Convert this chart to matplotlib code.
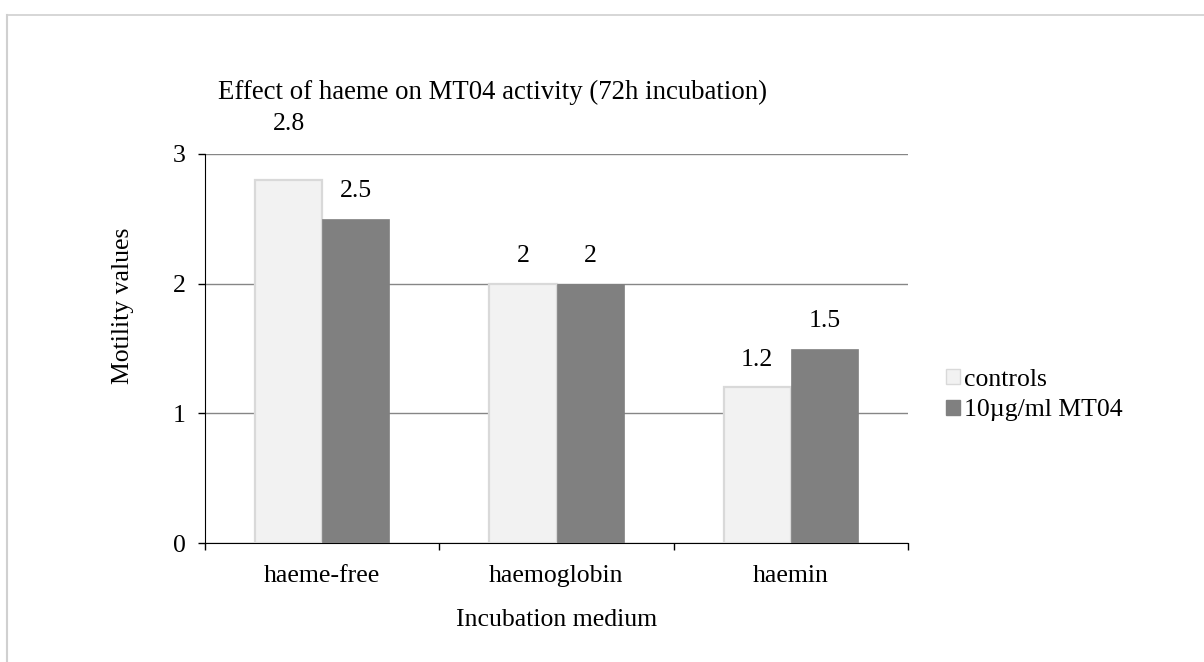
import matplotlib
matplotlib.use("Agg")
import matplotlib.pyplot as plt
import numpy as np
from matplotlib.lines import Line2D
from matplotlib.patches import Patch

categories = ["haeme-free", "haemoglobin", "haemin"]
controls = [2.8, 2.0, 1.2]
mt04 = [2.5, 2.0, 1.5]
series_names = ["controls", "10µg/ml MT04"]
yticks = [0, 1, 2, 3]

plt.rcParams['font.family'] = ['Liberation Serif', 'DejaVu Serif']

W, H = 1204, 662
FS = 18.5
fig = plt.figure(figsize=(W/100, H/100), dpi=100)
ax = fig.add_axes([205/W, 1-543/H, (908-205)/W, (543-154)/H])

x = np.arange(len(categories))
bw = 0.287
b1 = ax.bar(x - bw/2, controls, bw, color="#f2f2f2", edgecolor="#d9d9d9", linewidth=1.6, zorder=3)
b2 = ax.bar(x + bw/2, mt04, bw, color="#808080", edgecolor="#808080", linewidth=0.5, zorder=3)

# label offsets in points (style only)
ctrl_off = [32, 12, 12]
mt_off = [12, 12, 12]
for rects, vals, offs in ((b1, controls, ctrl_off), (b2, mt04, mt_off)):
    for r, v, o in zip(rects, vals, offs):
        ax.annotate(f"{v:g}", (r.get_x() + r.get_width()/2, v), xytext=(0, o),
                    textcoords="offset points", ha="center", va="bottom", fontsize=FS,
                    annotation_clip=False)

ax.set_xlim(-0.5, 2.5)
ax.set_ylim(0, 3)
ax.set_yticks(yticks)
ax.set_yticklabels([str(t) for t in yticks], fontsize=FS)
ax.set_xticks(x)
ax.set_xticklabels(categories, fontsize=FS)
ax.tick_params(axis='x', length=0, pad=16)
ax.tick_params(axis='y', length=5, width=1, direction='out', pad=9)
ax.set_xticks([-0.5, 0.5, 1.5, 2.5], minor=True)
ax.tick_params(axis='x', which='minor', length=5, width=1, direction='out')
ax.yaxis.grid(True, color="#868686", linewidth=1, zorder=0)
ax.set_axisbelow(True)
for s in ("top", "right"):
    ax.spines[s].set_visible(False)
ax.spines["left"].set_color("black")
ax.spines["bottom"].set_color("black")

ax.set_ylabel("Motility values", fontsize=FS)
ax.yaxis.set_label_coords((134-205)/703, (543-306)/389)
ax.set_xlabel("Incubation medium", fontsize=FS, labelpad=16)

fig.text(493/W, 1-92/H, "Effect of haeme on MT04 activity (72h incubation)",
         ha="center", va="center", fontsize=19.3)

handles = [Patch(facecolor="#f2f2f2", edgecolor="#d9d9d9", linewidth=1),
           Patch(facecolor="#808080", edgecolor="#808080")]
fig.legend(handles, series_names, loc="center left", bbox_to_anchor=(936/W, 1-395/H),
           frameon=False, fontsize=FS, handlelength=0.55, handleheight=0.55,
           handletextpad=0.15, labelspacing=0.35, borderaxespad=0)

# outer frame (left and top)
fig.add_artist(Line2D([7/W, 7/W], [0, 1-15/H], transform=fig.transFigure, color="#d0d0d0", linewidth=1.5))
fig.add_artist(Line2D([7/W, 1], [1-15/H, 1-15/H], transform=fig.transFigure, color="#d0d0d0", linewidth=1.2))

fig.savefig("out.png", dpi=100)
